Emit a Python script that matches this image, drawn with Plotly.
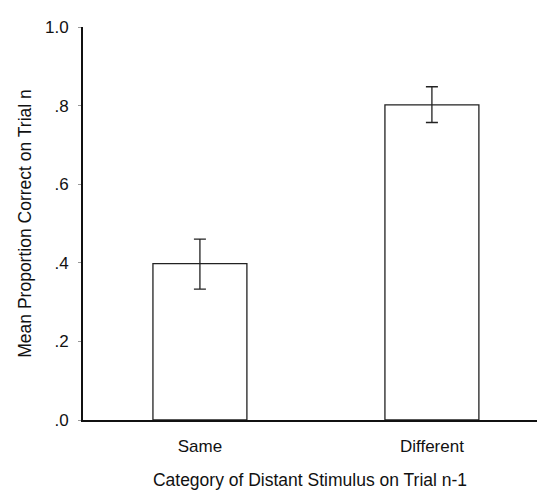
import plotly.graph_objects as go

categories = ["Same", "Different"]
means = [0.398, 0.802]
err_plus = [0.062, 0.046]
err_minus = [0.065, 0.045]
ytick_vals = [0.0, 0.2, 0.4, 0.6, 0.8, 1.0]
ytick_text = [".0", ".2", ".4", ".6", ".8", "1.0"]

fig = go.Figure()
fig.add_trace(go.Bar(
    x=categories, y=means, width=0.405,
    marker=dict(color="white", line=dict(color="#222", width=1.3)),
    error_y=dict(type="data", symmetric=False, array=err_plus, arrayminus=err_minus,
                 color="#222", thickness=1.3, width=6),
))

tick_font = dict(family="Liberation Sans, Arial, sans-serif", size=17, color="#111")
title_font = dict(family="Liberation Sans, Arial, sans-serif", size=17.5, color="#111")
fig.update_layout(
    width=547, height=490,
    margin=dict(l=75, r=18, t=10, b=78),
    paper_bgcolor="white", plot_bgcolor="white",
    showlegend=False, font=tick_font,
    xaxis=dict(type="category", range=[-0.504, 1.453], showline=True, linecolor="#111", linewidth=2,
               showgrid=False, ticks="", tickfont=tick_font, ticklabelstandoff=10,
               title=dict(text="Category of Distant Stimulus on Trial n-1", font=title_font, standoff=18)),
    yaxis=dict(range=[0, 1.0], showline=True, linecolor="#111", linewidth=2, showgrid=False,
               zeroline=False, tickvals=ytick_vals, ticktext=ytick_text, ticks="outside",
               ticklen=3, tickcolor="#999", tickfont=tick_font, ticklabelstandoff=6,
               title=dict(text="Mean Proportion Correct on Trial n", font=title_font, standoff=9)),
)
fig.write_html("out.html")
